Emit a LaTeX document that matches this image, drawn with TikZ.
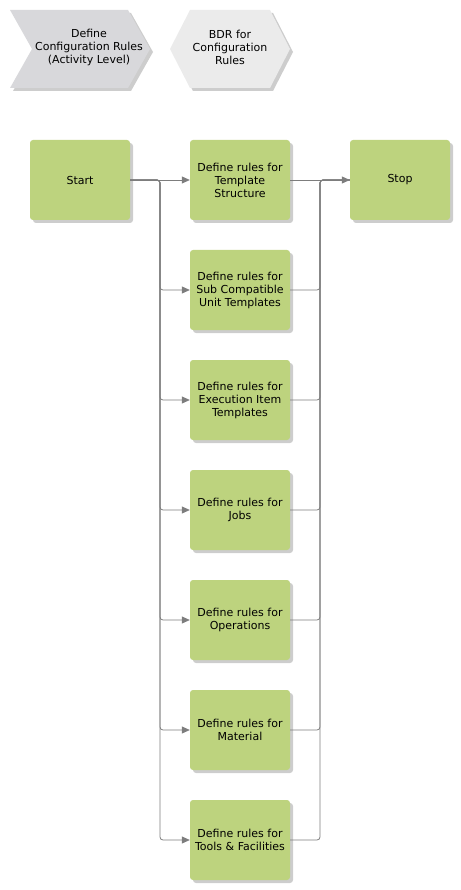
\documentclass[tikz,border=0pt]{standalone}
\usepackage{fontspec}
\setmainfont{DejaVu Sans}
\usetikzlibrary{arrows.meta,shadows}
\definecolor{boxgreen}{RGB}{189,211,126}
\definecolor{chevgray}{RGB}{216,216,219}
\definecolor{hexgray}{RGB}{235,235,235}
\definecolor{shadowgray}{RGB}{205,205,205}
\definecolor{linegray}{RGB}{125,125,125}
\tikzset{
  task/.style={draw=none, fill=boxgreen, rounded corners=3pt, minimum width=100pt, minimum height=80pt,
    inner sep=0pt, align=center, font=\fontsize{11pt}{13pt}\selectfont,
    drop shadow={shadow xshift=3pt, shadow yshift=-3pt, fill=shadowgray, opacity=1}},
  conn/.style={draw=linegray, line width=0.8pt, rounded corners=3pt},
  arr/.style={-{Triangle[length=8pt,width=7pt]}},
  lbl/.style={align=center, font=\fontsize{11pt}{13pt}\selectfont, inner sep=0pt}
}
\begin{document}
\begin{tikzpicture}[x=1pt,y=-1pt]
\useasboundingbox (0,0) rectangle (460,890);
% chevron
\fill[shadowgray] (13,13) -- (131,13) -- (153,52) -- (131,91) -- (13,91) -- (35,52) -- cycle;
\fill[chevgray] (10,10) -- (128,10) -- (150,49) -- (128,88) -- (10,88) -- (32,49) -- cycle;
\node[lbl] (chev) at (89,47) {Define\\Configuration Rules\\(Activity Level)};
% hexagon
\fill[shadowgray] (173,52) -- (193,13) -- (273,13) -- (293,52) -- (273,91) -- (193,91) -- cycle;
\fill[hexgray] (170,49) -- (190,10) -- (270,10) -- (290,49) -- (270,88) -- (190,88) -- cycle;
\node[lbl] (hex) at (230,47) {BDR for\\Configuration\\Rules};
% boxes
\node[task] (start) at (80,180) {Start};
\node[task] (b1) at (240,180) {Define rules for\\Template\\Structure};
\node[task] (stop) at (400,180) {Stop};
\node[task] (b2) at (240,290) {Define rules for\\Sub Compatible\\Unit Templates};
\node[task] (b3) at (240,400) {Define rules for\\Execution Item\\Templates};
\node[task] (b4) at (240,510) {Define rules for\\Jobs};
\node[task] (b5) at (240,620) {Define rules for\\Operations};
\node[task] (b6) at (240,730) {Define rules for\\Material};
\node[task] (b7) at (240,840) {Define rules for\\Tools \& Facilities};
\coordinate (splitL) at (160,180);
\coordinate (splitR) at (320,180);
% connectors
\draw[conn,arr] (start.east) -- (b1.west);
\draw[conn,arr] (b1.east) -- (stop.west);
\foreach \b in {b2,b3,b4,b5,b6,b7}{
  \draw[conn,arr] (start.east) -- (splitL) |- (\b.west);
  \draw[conn] (\b.east) -| (splitR) -- (stop.west);
}
\end{tikzpicture}
\end{document}
